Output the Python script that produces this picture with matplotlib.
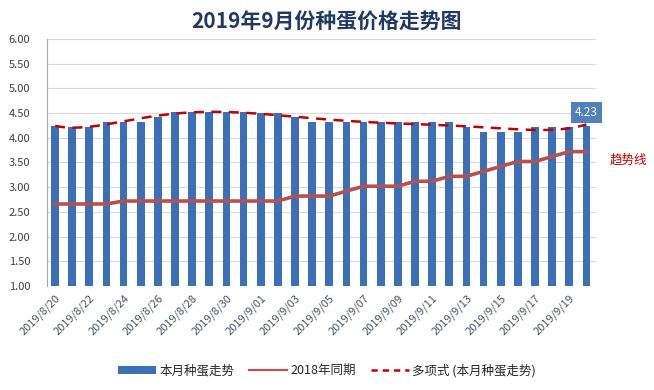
import numpy as np
import matplotlib
matplotlib.use("Agg")
import matplotlib.pyplot as plt
from matplotlib.lines import Line2D
from matplotlib.patches import Patch

plt.rcParams['font.family'] = ['Noto Sans CJK SC', 'DejaVu Sans']

dates = ["2019/8/20", "2019/8/21", "2019/8/22", "2019/8/23", "2019/8/24", "2019/8/25",
         "2019/8/26", "2019/8/27", "2019/8/28", "2019/8/29", "2019/8/30", "2019/8/31",
         "2019/9/01", "2019/9/02", "2019/9/03", "2019/9/04", "2019/9/05", "2019/9/06",
         "2019/9/07", "2019/9/08", "2019/9/09", "2019/9/10", "2019/9/11", "2019/9/12",
         "2019/9/13", "2019/9/14", "2019/9/15", "2019/9/16", "2019/9/17", "2019/9/18",
         "2019/9/19", "2019/9/20"]

price_2019 = [4.23, 4.22, 4.22, 4.32, 4.32, 4.32, 4.43, 4.53, 4.53, 4.53, 4.53, 4.52,
              4.50, 4.50, 4.43, 4.32, 4.32, 4.32, 4.32, 4.31, 4.31, 4.32, 4.32, 4.32,
              4.22, 4.12, 4.12, 4.12, 4.22, 4.22, 4.22, 4.23]

price_2018 = [2.66, 2.66, 2.66, 2.66, 2.72, 2.72, 2.72, 2.72, 2.72, 2.72, 2.72, 2.72,
              2.72, 2.72, 2.82, 2.82, 2.82, 2.92, 3.02, 3.02, 3.02, 3.12, 3.12, 3.22,
              3.22, 3.32, 3.42, 3.52, 3.52, 3.62, 3.72, 3.72]

y_ticks = [1.0, 1.5, 2.0, 2.5, 3.0, 3.5, 4.0, 4.5, 5.0, 5.5, 6.0]

x = np.arange(len(dates))

# excel style polynomial trendline of the bars
coef = np.polyfit(x, price_2019, 6)
xs = np.linspace(0, len(dates) - 1, 300)
trend = np.polyval(coef, xs)

fig = plt.figure(figsize=(6.54, 3.90), dpi=100)
ax = fig.add_axes([0.0719, 0.2667, 0.8391, 0.6333])

bar_col = '#3b70b9'
ax.bar(x, np.array(price_2019) - 1.0, bottom=1.0, width=0.45, color=bar_col, zorder=2)
ax.plot(x, price_2018, color='#b5514e', lw=2.6, zorder=3, solid_capstyle='round')
ax.plot(xs, trend, color='#c00000', lw=1.8, ls=(0, (4.0, 3.0)), zorder=4)

ax.set_xlim(-0.47, len(dates) - 0.45)
ax.set_ylim(1.0, 6.0)
ax.set_yticks(y_ticks)
ax.set_yticklabels(["%.2f" % v for v in y_ticks], fontsize=8, color='#404040')
ax.grid(axis='y', color='#d9d9d9', lw=0.8, zorder=0)
ax.tick_params(axis='y', length=0, pad=12)

ax.set_xticks(x[::2])
ax.set_xticklabels(dates[::2], rotation=45, ha='right', rotation_mode='anchor',
                   fontsize=8, color='#44546a')
ax.tick_params(axis='x', length=0, pad=5)

for s in ['top', 'right', 'bottom']:
    ax.spines[s].set_visible(False)
ax.spines['left'].set_color('#a6a6a6')
ax.spines['left'].set_linewidth(0.8)

# label on the last bar
ax.text(x[-1], price_2019[-1] + 0.28, "%.2f" % price_2019[-1], ha='center', va='center',
        fontsize=8.5, color='white',
        bbox=dict(boxstyle='square,pad=0.35', fc='#4f81bd', ec='none'), zorder=5)

fig.text(0.932, 0.59, "趋势线", color='#c00000', fontsize=9, va='center')

fig.text(0.5, 0.943, "2019年9月份种蛋价格走势图", ha='center', va='center',
         fontsize=15, fontweight='bold', color='#1f3864')

handles = [Patch(fc=bar_col, ec='none'),
           Line2D([], [], color='#b5514e', lw=1.6),
           Line2D([], [], color='#c00000', lw=1.8, ls=(0, (2.5, 2.0)))]
labels = ["本月种蛋走势", "2018年同期", "多项式 (本月种蛋走势)"]
fig.legend(handles, labels, loc='center', bbox_to_anchor=(0.5, 0.05), ncol=3,
           frameon=False, fontsize=9, handlelength=3.0, handleheight=0.6,
           columnspacing=1.2, handletextpad=0.3, labelcolor='#262626')

fig.savefig("out.png", dpi=100)
